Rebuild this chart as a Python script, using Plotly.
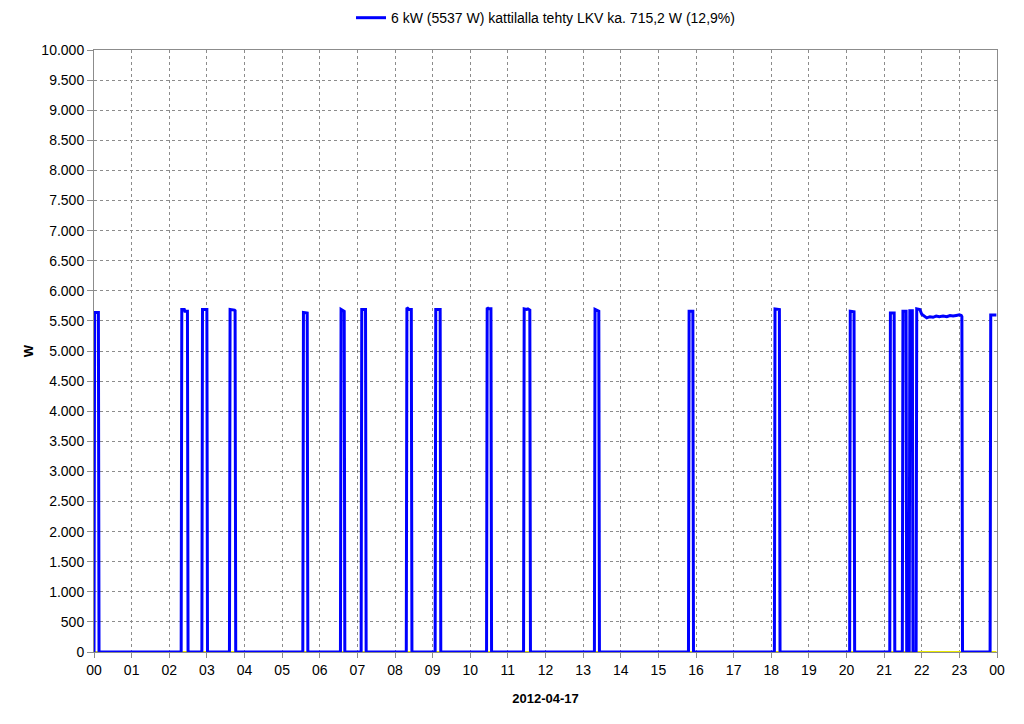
import plotly.graph_objects as go

DAY = "2012-04-17"

# Blue series: times (HH:MM) and power in W
times = [
    "00:00", "00:01", "00:07", "00:08",
    "02:19", "02:20", "02:24", "02:25", "02:29", "02:30",
    "02:52", "02:53", "03:00", "03:01",
    "03:36", "03:37", "03:44", "03:45", "03:46",
    "05:33", "05:34", "05:37", "05:40", "05:41",
    "06:33", "06:34", "06:37", "06:39", "06:40",
    "07:06", "07:07", "07:13", "07:14",
    "08:18", "08:19", "08:22", "08:26", "08:27",
    "09:04", "09:05", "09:12", "09:13",
    "10:26", "10:27", "10:29", "10:33", "10:34",
    "11:25", "11:26", "11:30", "11:32", "11:35", "11:36",
    "13:18", "13:19", "13:22", "13:25", "13:26",
    "15:48", "15:49", "15:55", "15:56",
    "18:05", "18:06", "18:13", "18:14",
    "20:05", "20:06", "20:09", "20:12", "20:13",
    "21:09", "21:10", "21:16", "21:17",
    "21:29", "21:30", "21:35", "21:36",
    "21:40", "21:41", "21:45", "21:46",
    "21:51", "21:52", "21:57", "22:00", "22:05", "22:08", "22:13", "22:18",
    "22:23", "22:28", "22:34", "22:40", "22:45", "22:50", "22:55", "23:00",
    "23:03", "23:04", "23:05",
    "23:49", "23:50", "23:59",
]
watts = [
    0, 5640, 5640, 0,
    0, 5690, 5690, 5660, 5660, 0,
    0, 5690, 5690, 0,
    0, 5690, 5680, 5670, 0,
    0, 5640, 5630, 5630, 0,
    0, 5690, 5670, 5660, 0,
    0, 5690, 5690, 0,
    0, 5720, 5690, 5690, 0,
    0, 5690, 5690, 0,
    0, 5720, 5700, 5700, 0,
    0, 5700, 5690, 5700, 5680, 0,
    0, 5690, 5670, 5660, 0,
    0, 5660, 5660, 0,
    0, 5700, 5690, 0,
    0, 5660, 5650, 5650, 0,
    0, 5630, 5630, 0,
    0, 5660, 5660, 0,
    0, 5670, 5670, 0,
    0, 5700, 5690, 5610, 5570, 5550, 5570, 5560,
    5580, 5570, 5580, 5570, 5590, 5580, 5590, 5600,
    5590, 5570, 0,
    0, 5600, 5600,
]

# Second (yellow) series, flat at zero
zero_times = ["00:00", "23:59"]
zero_watts = [0, 0]

legend_name = "6 kW (5537 W) kattilalla tehty LKV ka. 715,2 W (12,9%)"
y_ticks = list(range(0, 10001, 500))

FONT = "Liberation Sans, Arial, sans-serif"

fig = go.Figure()
fig.add_trace(go.Scatter(
    x=[f"{DAY} {t}" for t in zero_times], y=zero_watts,
    mode="lines", line=dict(color="#e8e800", width=2),
    showlegend=False, hoverinfo="skip",
))
fig.add_trace(go.Scatter(
    x=[f"{DAY} {t}" for t in times], y=watts,
    mode="lines", line=dict(color="#0000ff", width=3),
    name=legend_name,
))

grid = dict(showgrid=True, gridcolor="#8c8c8c", gridwidth=1, griddash="3px,3px")

# page body has an 8px default margin, so the figure is 16px smaller than the window
fig.update_layout(
    width=1008, height=708,
    paper_bgcolor="white", plot_bgcolor="white",
    margin=dict(l=86, r=19, t=42, b=64, autoexpand=False),
    separators=",.",
    font=dict(family=FONT, size=14, color="black"),
    showlegend=True,
    legend=dict(orientation="h", x=0.5, xanchor="center", y=1.053, yanchor="middle",
                font=dict(size=14), bgcolor="rgba(0,0,0,0)"),
    xaxis=dict(
        type="date",
        range=[f"{DAY} 00:00", "2012-04-18 00:00"],
        dtick=3600000, tick0=f"{DAY} 00:00", tickformat="%H",
        ticks="outside", ticklen=5, tickcolor="#8c8c8c",
        showline=True, linecolor="#8c8c8c", linewidth=1, mirror=True,
        title=dict(text="<b>2012-04-17</b>", font=dict(size=13), standoff=17),
        tickfont=dict(size=14),
        zeroline=False,
        **grid,
    ),
    yaxis=dict(
        range=[0, 10000],
        tickvals=y_ticks, tickformat=",d",
        ticks="outside", ticklen=6, tickcolor="#8c8c8c",
        showline=True, linecolor="#8c8c8c", linewidth=1, mirror=True,
        title=dict(text="<b>W</b>", font=dict(size=13), standoff=4),
        tickfont=dict(size=14),
        zeroline=False,
        **grid,
    ),
)

fig.write_html("out.html")
